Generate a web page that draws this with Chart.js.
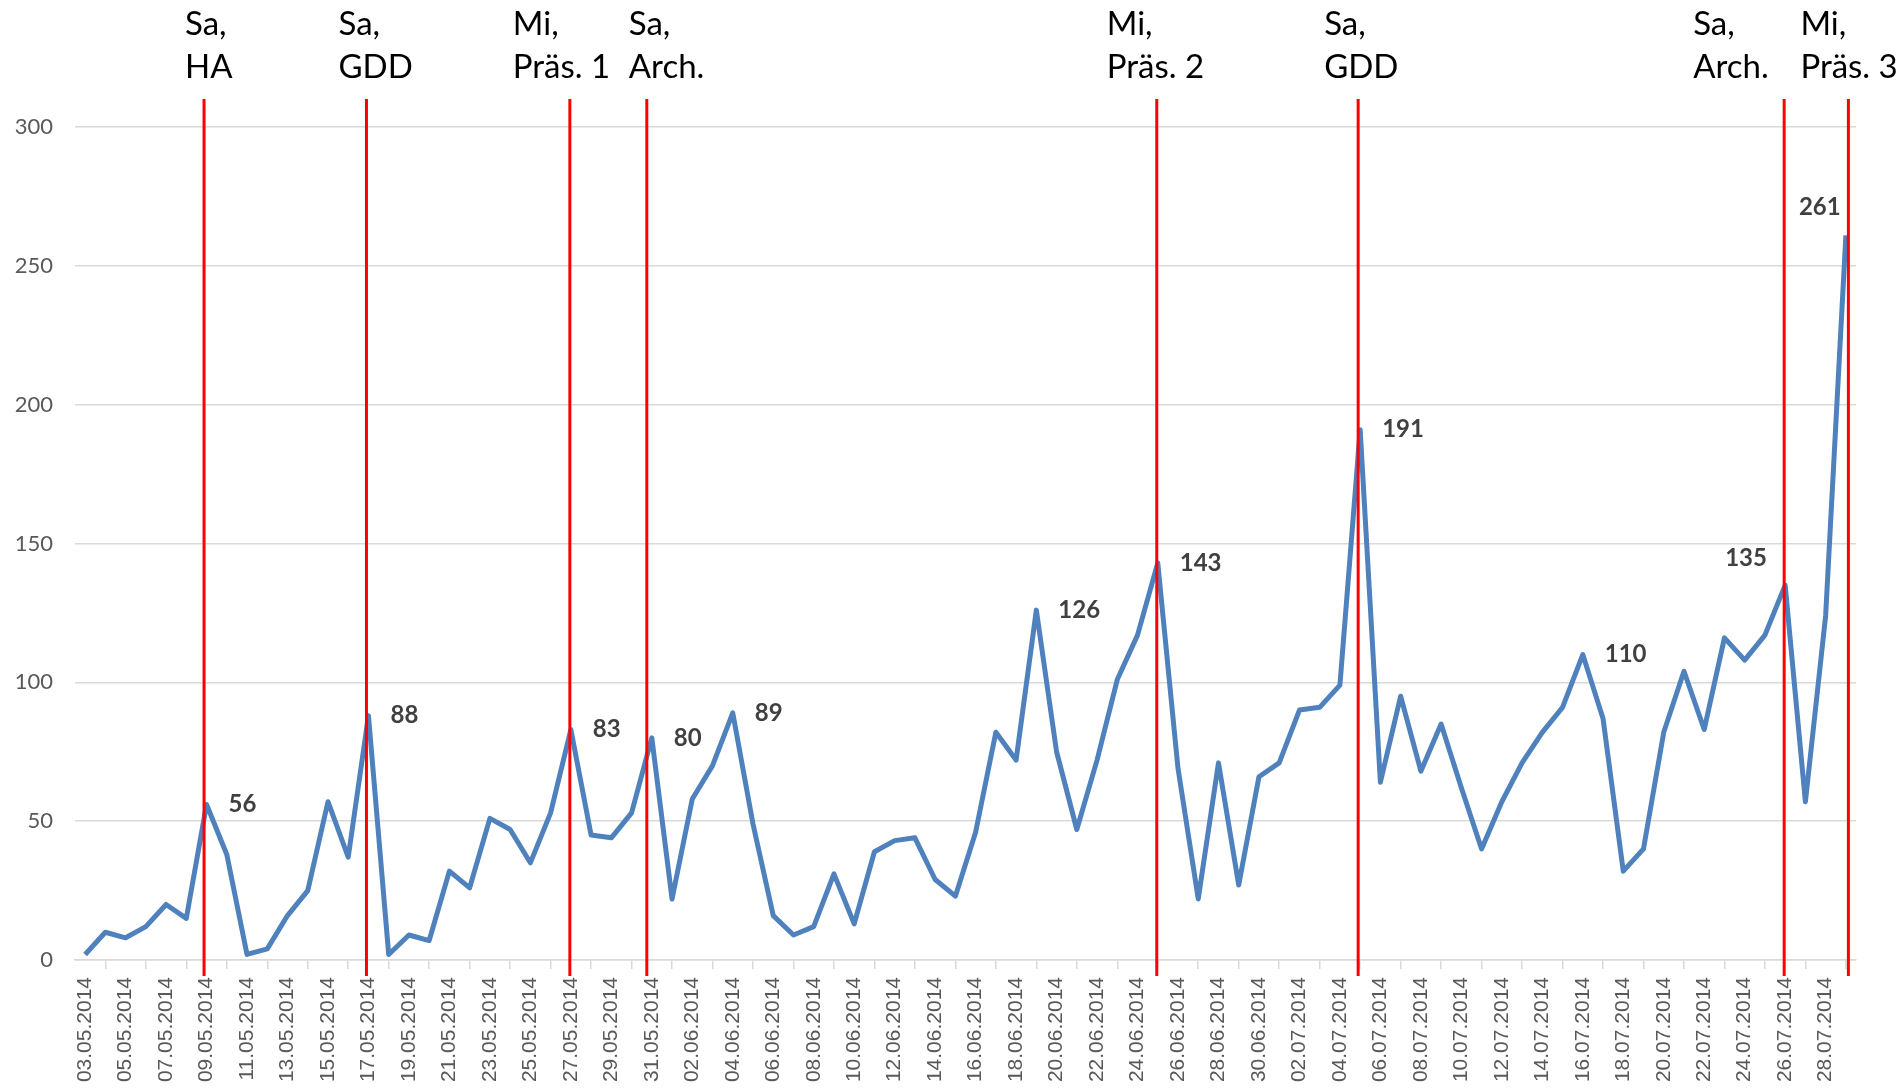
<!DOCTYPE html>
<html>
<head>
<meta charset="utf-8">
<script src="https://cdn.jsdelivr.net/npm/chart.js"></script>
<style>
  html, body { margin: 0; padding: 0; background: #fff; }
  #wrap { width: 1899px; height: 1088px; position: relative; }
</style>
</head>
<body>
<div id="wrap"><canvas id="besucherChart"></canvas></div>
<script>
const tage = [
  '03.05.2014','04.05.2014','05.05.2014','06.05.2014','07.05.2014','08.05.2014','09.05.2014','10.05.2014',
  '11.05.2014','12.05.2014','13.05.2014','14.05.2014','15.05.2014','16.05.2014','17.05.2014','18.05.2014',
  '19.05.2014','20.05.2014','21.05.2014','22.05.2014','23.05.2014','24.05.2014','25.05.2014','26.05.2014',
  '27.05.2014','28.05.2014','29.05.2014','30.05.2014','31.05.2014','01.06.2014','02.06.2014','03.06.2014',
  '04.06.2014','05.06.2014','06.06.2014','07.06.2014','08.06.2014','09.06.2014','10.06.2014','11.06.2014',
  '12.06.2014','13.06.2014','14.06.2014','15.06.2014','16.06.2014','17.06.2014','18.06.2014','19.06.2014',
  '20.06.2014','21.06.2014','22.06.2014','23.06.2014','24.06.2014','25.06.2014','26.06.2014','27.06.2014',
  '28.06.2014','29.06.2014','30.06.2014','01.07.2014','02.07.2014','03.07.2014','04.07.2014','05.07.2014',
  '06.07.2014','07.07.2014','08.07.2014','09.07.2014','10.07.2014','11.07.2014','12.07.2014','13.07.2014',
  '14.07.2014','15.07.2014','16.07.2014','17.07.2014','18.07.2014','19.07.2014','20.07.2014','21.07.2014',
  '22.07.2014','23.07.2014','24.07.2014','25.07.2014','26.07.2014','27.07.2014','28.07.2014','29.07.2014'
];

const besucher = [
  2, 10, 8, 12, 20, 15, 56, 38, 2, 4,
  16, 25, 57, 37, 88, 2, 9, 7, 32, 26,
  51, 47, 35, 53, 83, 45, 44, 53, 80, 22,
  58, 70, 89, 49, 16, 9, 12, 31, 13, 39,
  43, 44, 29, 23, 46, 82, 72, 126, 75, 47,
  72, 101, 117, 143, 69, 22, 71, 27, 66, 71,
  90, 91, 99, 191, 64, 95, 68, 85, 62, 40,
  57, 71, 82, 91, 110, 87, 32, 40, 82, 104,
  83, 116, 108, 117, 135, 57, 124, 261
];

const yTicks = [0, 50, 100, 150, 200, 250, 300];

// Termine (rote Linien) und ihre Beschriftung
const terminTage = ['09.05.2014', '17.05.2014', '27.05.2014', '31.05.2014', '25.06.2014', '05.07.2014', '26.07.2014', '29.07.2014'];
const terminTexte = [
  ['Sa,', 'HA'], ['Sa,', 'GDD'], ['Mi,', 'Präs. 1'], ['Sa,', 'Arch.'],
  ['Mi,', 'Präs. 2'], ['Sa,', 'GDD'], ['Sa,', 'Arch.'], ['Mi,', 'Präs. 3']
];

// Werte, die im Diagramm beschriftet sind
const beschrifteteTage = ['09.05.2014', '17.05.2014', '27.05.2014', '31.05.2014', '04.06.2014', '19.06.2014', '25.06.2014', '05.07.2014', '16.07.2014', '26.07.2014', '29.07.2014'];

// Layout der Beschriftungen (nur Positionen, in px)
const terminLinienVersatz = [-2.5, -2, -1, -5, -1, -2, -1, 2.5];
const terminTextVersatz = [-19, -28, -57, -18, -50, -34, -91, -48];
const wertVersatz = {
  '26.07.2014': [-60, -27],
  '29.07.2014': [-47, -28]
};

const markierungen = {
  id: 'markierungen',
  afterDatasetsDraw(chart) {
    const ctx = chart.ctx;
    const x = chart.scales.x;
    const y = chart.scales.y;
    const area = chart.chartArea;

    ctx.save();
    // rote Linien
    ctx.strokeStyle = '#FF0000';
    ctx.lineWidth = 3;
    terminTage.forEach((tag, i) => {
      const px = x.getPixelForValue(tage.indexOf(tag)) + terminLinienVersatz[i];
      ctx.beginPath();
      ctx.moveTo(px, area.top - 28);
      ctx.lineTo(px, area.bottom + 16);
      ctx.stroke();

      ctx.fillStyle = '#000';
      ctx.font = '33px Lato';
      ctx.textAlign = 'left';
      ctx.textBaseline = 'middle';
      ctx.fillText(terminTexte[i][0], px + terminTextVersatz[i], 24);
      ctx.fillText(terminTexte[i][1], px + terminTextVersatz[i], 67);
    });

    // Wertbeschriftungen
    ctx.fillStyle = '#404040';
    ctx.font = 'bold 24px Lato';
    ctx.textAlign = 'left';
    ctx.textBaseline = 'middle';
    beschrifteteTage.forEach(tag => {
      const idx = tage.indexOf(tag);
      const v = besucher[idx];
      const d = wertVersatz[tag] || [22, 0];
      ctx.fillText(String(v), x.getPixelForValue(idx) + d[0], y.getPixelForValue(v) + d[1]);
    });
    ctx.restore();
  }
};

const ctx = document.getElementById('besucherChart').getContext('2d');
new Chart(ctx, {
  type: 'line',
  data: {
    labels: tage,
    datasets: [{
      label: 'Besucher',
      data: besucher,
      borderColor: '#4F81BD',
      borderWidth: 5,
      borderJoinStyle: 'round',
      pointRadius: 0,
      tension: 0,
      fill: false
    }]
  },
  options: {
    responsive: true,
    maintainAspectRatio: false,
    animation: false,
    layout: { padding: { top: 127, right: 43, left: 0, bottom: 0 } },
    plugins: {
      legend: { display: false },
      tooltip: { enabled: false }
    },
    scales: {
      x: {
        offset: true,
        grid: {
          offset: true,
          drawOnChartArea: false,
          color: '#D9D9D9',
          lineWidth: 1.5,
          tickLength: 9
        },
        border: { color: '#D9D9D9', width: 1.5 },
        ticks: {
          autoSkip: false,
          maxRotation: 90,
          minRotation: 90,
          padding: 8,
          color: '#595959',
          font: { family: 'Liberation Sans', size: 21 },
          callback: (val, i) => (i % 2 === 0 ? tage[i] : null)
        },
        afterFit: s => { s.height = 128; }
      },
      y: {
        min: 0,
        max: 300,
        afterBuildTicks: s => { s.ticks = yTicks.map(v => ({ value: v })); },
        grid: { color: '#D9D9D9', lineWidth: 1.5, drawTicks: false },
        border: { display: false },
        ticks: {
          padding: 22,
          color: '#595959',
          font: { family: 'Lato', size: 22 }
        },
        afterFit: s => { s.width = 75; }
      }
    }
  },
  plugins: [markierungen]
});
</script>
</body>
</html>
